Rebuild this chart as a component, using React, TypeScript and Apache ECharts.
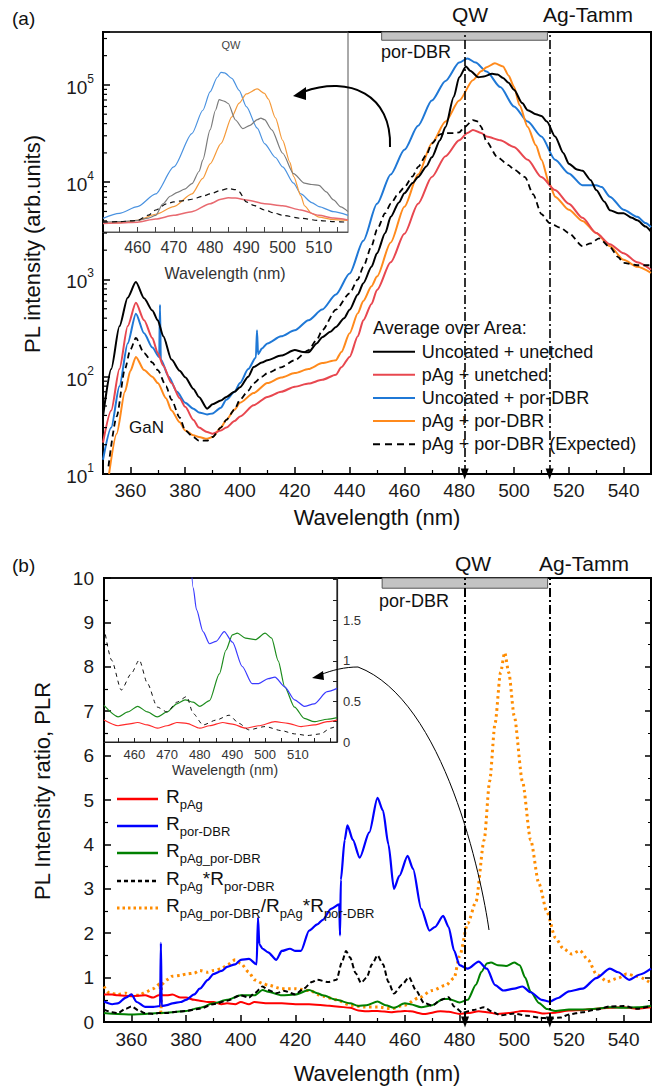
import React, { useEffect, useRef } from "react";
import * as echarts from "echarts";

const FONT = "'Liberation Sans', Arial, Helvetica, sans-serif";

// ---------- tick labels ----------
const xMajorTicks = [360, 380, 400, 420, 440, 460, 480, 500, 520, 540];
const xMinorTicks = [370, 390, 410, 430, 450, 470, 490, 510, 530];
const insetTickLabels = [460, 470, 480, 490, 500, 510];
const insetATicks = [455, 460, 465, 470, 475, 480, 485, 490, 495, 500, 505, 510, 515];
const insetBTicks = [455, 460, 465, 470, 475, 480, 485, 490, 495, 500, 505, 510, 515, 520];
const insetBYLabels = [0, 0.5, 1, 1.5];
const insetBYTicks = [0, 0.25, 0.5, 0.75, 1, 1.25, 1.5, 1.75, 2];
const markerWavelengths = [482, 513]; // QW, Ag-Tamm
const porDbrBand = [451.7, 512.2];

// ---------- panel (a): PL spectra ----------
const uncoatedUnetched: [number, number][] = [
  [350, 39], [353, 120], [356, 330], [359, 650], [362, 940], [365, 640], [368, 480], [370, 380], [372, 260],
  [375, 150], [378, 115], [380, 99], [383, 75], [385, 62], [388, 47], [390, 52], [393, 57], [395, 62], [398, 70],
  [400, 78], [403, 100], [405, 126], [408, 140], [410, 148], [415, 165], [420, 188], [423, 180], [425, 178],
  [428, 220], [430, 255], [433, 290], [435, 325], [438, 400], [440, 487], [443, 700], [445, 915], [448, 1350],
  [450, 1860], [453, 3000], [455, 4400], [458, 6200], [460, 7700], [463, 9800], [465, 11300], [468, 14500],
  [470, 18000], [473, 27000], [475, 37000], [478, 75000], [480, 120000], [482.5, 155000], [484, 140000],
  [487, 120000], [489, 122000], [492, 130000], [494, 128000], [496, 118000], [498, 105000], [500, 89000],
  [503, 65000], [505, 55000], [508, 50000], [510, 48000], [512, 42000], [515, 29500], [518, 20000], [520, 15500],
  [523, 13500], [525, 13100], [528, 10500], [530, 8300], [533, 6300], [535, 5150], [538, 4800], [540, 4800],
  [543, 4300], [545, 4050], [548, 3500], [550, 3100],
];
const pAgUnetched: [number, number][] = [
  [350, 21], [353, 45], [356, 120], [359, 330], [362, 575], [365, 380], [368, 250], [370, 175], [372, 130],
  [375, 86], [378, 60], [380, 49], [383, 36], [385, 30], [388, 27], [390, 26], [393, 28], [395, 30], [398, 35],
  [400, 39], [405, 51], [410, 62], [415, 70], [420, 79], [425, 85], [430, 93], [435, 105], [437, 125], [440, 160],
  [443, 260], [445, 380], [448, 560], [450, 780], [455, 1500], [460, 2950], [465, 6000], [470, 11300],
  [475, 18500], [480, 27000], [483, 32000], [485, 34500], [488, 32000], [490, 29500], [495, 27000], [500, 23000],
  [505, 17000], [510, 11300], [515, 8300], [520, 6000], [525, 4300], [530, 3000], [535, 2300], [540, 1860],
  [545, 1500], [550, 1260],
];
const uncoatedPorDbr: [number, number][] = [
  [350, 14], [353, 30], [356, 80], [359, 220], [362, 445], [365, 280], [368, 200], [370.5, 160], [370.8, 550],
  [371.1, 150], [374, 100], [377, 70], [380, 54], [383, 47], [385, 43], [388, 41], [390, 42], [393, 48], [395, 58],
  [398, 70], [400, 86], [403, 120], [405.8, 158], [406.2, 300], [406.6, 170], [408, 195], [410, 220], [415, 260],
  [420, 300], [425, 380], [430, 490], [435, 700], [440, 1150], [445, 2500], [450, 6000], [455, 12000],
  [460, 21500], [465, 38000], [470, 69000], [475, 110000], [480, 170000], [483, 187000], [486, 170000],
  [490, 137000], [495, 95000], [500, 60000], [505, 42000], [510, 29500], [515, 17000], [520, 12300], [525, 9300],
  [530, 9300], [532, 8900], [535, 7100], [540, 5200], [545, 4400], [548, 3800], [550, 3450],
];
const pAgPorDbr: [number, number][] = [
  [352.2, 10], [355, 26], [358, 70], [360, 115], [362, 160], [365, 117], [368, 100], [370, 86], [373, 60],
  [375, 45], [378, 34], [380, 28], [383, 25], [385, 24], [388, 23], [390, 24], [393, 30], [395, 36], [398, 46],
  [400, 54], [405, 68], [410, 86], [415, 98], [420, 109], [425, 120], [430, 138], [435, 148], [437, 180],
  [440, 280], [443, 450], [445, 600], [448, 850], [450, 1070], [455, 2400], [460, 5600], [465, 12000],
  [470, 25000], [475, 42000], [480, 69000], [485, 112000], [488, 138000], [490, 152000], [493, 167000],
  [496, 155000], [498, 125000], [500, 96000], [502, 62000], [505, 37000], [508, 24000], [510, 17000],
  [513, 9500], [515, 7100], [520, 5200], [525, 4000], [530, 3000], [535, 2200], [540, 1590], [545, 1350],
  [550, 1170],
];
const pAgPorDbrExpected: [number, number][] = [
  [352, 12], [355, 39], [358, 120], [360, 190], [362, 250], [365, 175], [368, 140], [370, 117], [373, 80],
  [375, 58], [378, 38], [380, 28], [383, 24], [385, 22], [388, 22], [390, 24], [393, 30], [395, 36], [398, 46],
  [400, 58], [403, 72], [405, 86], [408, 100], [410, 109], [415, 125], [420, 148], [425, 188], [428, 240],
  [430, 300], [435, 490], [440, 720], [443, 1000], [445, 1350], [448, 2200], [450, 3250], [453, 4800],
  [455, 6000], [458, 7800], [460, 8900], [463, 11500], [465, 14400], [468, 19000], [470, 25000], [473, 31000],
  [475, 32000], [478, 32000], [480, 32500], [482, 37000], [485, 43500], [487, 42000], [488, 37000], [490, 26000],
  [494, 18000], [498, 15000], [500, 13500], [504, 11300], [507, 7500], [510, 4700], [513, 3800], [517, 3400],
  [520, 3000], [525, 2200], [528, 2350], [531, 2650], [535, 2150], [538, 1700], [540, 1480], [545, 1400],
  [550, 1400],
];

// inset of panel (a)
const insetUncoatedUnetched: [number, number][] = [
  [450.5, 3900], [455, 3950], [460, 4060], [463, 4300], [465, 4580], [467, 6000], [469, 7200], [471, 7900],
  [473, 8500], [475, 9700], [477, 13000], [478, 17000], [480, 34600], [481.5, 55000], [482.5, 70600],
  [484, 68000], [485, 64500], [487, 43700], [489, 35700], [491, 38500], [493, 44000], [494, 45700],
  [495, 44000], [497, 34600], [500, 19900], [503, 12300], [506, 9800], [508, 9500], [510, 9300], [512, 8000],
  [514, 6600], [516, 5600], [518, 5000],
];
const insetPAgUnetched: [number, number][] = [
  [450.5, 3780], [455, 3820], [460, 3900], [465, 4200], [470, 4580], [475, 5000], [480, 6030], [483, 6700],
  [485, 6950], [487, 6900], [490, 6600], [495, 6030], [500, 5750], [505, 5200], [510, 4580], [514, 4300],
  [518, 4110],
];
const insetUncoatedPorDbr: [number, number][] = [
  [450.5, 4270], [455, 4800], [460, 5630], [465, 7600], [470, 14400], [475, 31700], [478, 55000], [480, 85000],
  [482, 120000], [483, 135000], [484, 133000], [486, 117000], [488, 88000], [490, 60000], [493, 36000],
  [495, 25000], [498, 18000], [500, 14400], [503, 9800], [505, 7600], [508, 6200], [510, 5630], [514, 5000],
  [518, 4580],
];
const insetPAgPorDbr: [number, number][] = [
  [450.5, 3780], [455, 3850], [460, 4060], [465, 4700], [470, 5630], [475, 7600], [478, 11000], [480, 15500],
  [483, 25000], [486, 47000], [488, 65000], [490, 81000], [493, 91000], [495, 82000], [496, 72000],
  [498, 46000], [500, 27000], [502, 16000], [503, 11500], [505, 7300], [506, 5750], [508, 4800], [510, 4390],
  [514, 4150], [518, 4060],
];
const insetExpected: [number, number][] = [
  [450.5, 3900], [455, 3950], [460, 4060], [463, 4600], [465, 5200], [468, 6000], [470, 6300], [473, 6500],
  [475, 6700], [478, 7200], [480, 7600], [483, 8300], [485, 8640], [487, 8400], [488, 8000], [490, 6300],
  [492, 5800], [495, 5200], [498, 4800], [500, 4580], [505, 4270], [510, 4060], [514, 3950], [518, 3900],
];

// ---------- panel (b): PL intensity ratios ----------
const rPAg: [number, number][] = [
  [350, 0.62], [353, 0.62], [355, 0.6], [360, 0.58], [365, 0.6], [368, 0.55], [370, 0.6], [373, 0.6],
  [375, 0.62], [378, 0.55], [380, 0.55], [383, 0.5], [385, 0.48], [388, 0.45], [390, 0.45], [393, 0.4],
  [395, 0.42], [398, 0.4], [400, 0.45], [403, 0.4], [405, 0.45], [410, 0.42], [415, 0.42], [420, 0.4],
  [425, 0.4], [430, 0.38], [435, 0.35], [440, 0.32], [443, 0.26], [446, 0.24], [450, 0.25], [455, 0.22],
  [460, 0.25], [462, 0.24], [467, 0.18], [473, 0.24], [476, 0.23], [480, 0.18], [483, 0.2], [487, 0.24],
  [490, 0.22], [494, 0.18], [498, 0.2], [503, 0.25], [507, 0.23], [511, 0.19], [515, 0.21], [520, 0.26],
  [525, 0.27], [530, 0.3], [535, 0.32], [540, 0.33], [545, 0.3], [550, 0.33],
];
const rPorDbr: [number, number][] = [
  [350, 0.46], [353, 0.4], [355, 0.42], [358, 0.55], [360, 0.62], [362, 0.45], [365, 0.34], [368, 0.34],
  [370.5, 0.36], [370.8, 1.78], [371.1, 0.36], [373, 0.38], [375, 0.42], [378, 0.45], [380, 0.5], [383, 0.62],
  [385, 0.75], [388, 0.95], [390, 1.08], [393, 1.15], [395, 1.24], [398, 1.3], [400, 1.4], [403, 1.42],
  [405.8, 1.3], [406.3, 2.35], [406.8, 1.75], [408, 1.65], [410, 1.57], [413, 1.4], [415, 1.6], [418, 1.65],
  [420, 1.6], [422, 1.6], [425, 2.06], [428, 2.2], [430, 2.3], [433, 2.55], [436, 2.65], [436.3, 1.95],
  [436.6, 3.2], [438, 4.1], [439, 4.43], [441, 4.1], [443.5, 3.7], [447, 4.27], [450, 5.05], [452, 4.76],
  [454, 4.0], [456, 3.0], [458, 3.29], [461, 3.74], [463, 3.45], [466, 2.55], [469, 2.06], [471, 2.14],
  [474, 2.39], [476, 2.14], [478, 1.61], [480, 1.28], [483, 1.2], [487, 1.36], [490, 1.2], [493, 0.83],
  [496, 0.71], [500, 0.75], [503, 0.8], [506, 0.67], [510, 0.5], [513, 0.46], [516, 0.54], [520, 0.69],
  [525, 0.75], [530, 0.99], [535, 1.2], [538, 1.12], [542, 0.95], [546, 1.07], [550, 1.2],
];
const rPAgPorDbr: [number, number][] = [
  [350, 0.2], [355, 0.18], [360, 0.17], [365, 0.18], [370, 0.2], [375, 0.22], [380, 0.25], [385, 0.32],
  [390, 0.42], [395, 0.5], [400, 0.6], [405, 0.6], [408, 0.72], [410, 0.68], [415, 0.6], [420, 0.62],
  [425, 0.72], [428, 0.65], [430, 0.6], [435, 0.5], [440, 0.42], [443, 0.36], [446, 0.38], [450, 0.46],
  [453, 0.38], [456, 0.32], [460, 0.42], [462, 0.4], [466, 0.33], [470, 0.38], [474, 0.52], [476, 0.52],
  [480, 0.44], [483, 0.5], [486, 0.84], [488, 1.13], [490, 1.32], [491.5, 1.34], [494, 1.28], [497, 1.26],
  [500, 1.34], [502, 1.28], [504, 1.0], [506, 0.68], [509, 0.43], [512, 0.29], [515, 0.25], [520, 0.28],
  [525, 0.28], [530, 0.3], [535, 0.33], [540, 0.32], [545, 0.33], [550, 0.36],
];
const rProduct: [number, number][] = [
  [350, 0.28], [353, 0.22], [355, 0.2], [358, 0.3], [360, 0.35], [363, 0.25], [365, 0.2], [368, 0.18],
  [370, 0.2], [373, 0.2], [375, 0.22], [380, 0.25], [385, 0.3], [390, 0.4], [395, 0.48], [400, 0.6],
  [403, 0.55], [405, 0.65], [408, 0.8], [410, 0.72], [413, 0.65], [416, 0.7], [420, 0.62], [423, 0.75],
  [426, 0.9], [428, 0.95], [432, 0.9], [435, 0.95], [437, 1.35], [438.5, 1.6], [440, 1.45], [442, 1.1],
  [444, 0.88], [446, 1.0], [448, 1.3], [450, 1.5], [452, 1.3], [454, 0.9], [456, 0.64], [459, 0.84],
  [461.5, 1.01], [464, 0.72], [467, 0.43], [470, 0.37], [473, 0.49], [476, 0.56], [478, 0.35], [481, 0.21],
  [485, 0.27], [489, 0.33], [492, 0.23], [495, 0.15], [500, 0.19], [505, 0.14], [509, 0.1], [513, 0.08],
  [517, 0.1], [520, 0.17], [525, 0.22], [530, 0.28], [535, 0.35], [540, 0.36], [545, 0.3], [550, 0.36],
];
const rRatio: [number, number][] = [
  [350, 0.8], [352, 0.65], [355, 0.62], [358, 0.65], [360, 0.6], [363, 0.6], [365, 0.67], [368, 0.75],
  [370.5, 0.86], [370.8, 0.15], [371.1, 0.85], [373, 0.95], [375, 1.03], [378, 1.05], [380, 1.08], [383, 1.1],
  [385, 1.16], [388, 1.12], [390, 1.16], [393, 1.2], [395, 1.28], [398, 1.4], [400, 1.32], [403, 1.12],
  [405, 0.95], [408, 0.87], [410, 0.83], [415, 0.75], [420, 0.75], [425, 0.71], [430, 0.58], [435, 0.5],
  [440, 0.38], [445, 0.34], [450, 0.34], [455, 0.3], [460, 0.38], [465, 0.54], [470, 0.71], [475, 0.83],
  [478, 0.99], [480, 1.48], [483, 2.22], [486, 2.71], [489, 4.1], [491, 5.42], [493, 6.73], [495, 7.87],
  [496.5, 8.32], [498, 7.87], [500, 6.89], [503, 5.42], [506, 4.1], [509, 3.12], [512, 2.47], [515, 1.9],
  [518, 1.65], [521, 1.53], [524, 1.61], [527, 1.4], [530, 1.08], [534, 0.91], [538, 0.99], [541, 1.08],
  [545, 1.03], [550, 0.87],
];

// inset of panel (b)
const insetRPAg: [number, number][] = [
  [450.7, 0.27], [455, 0.2], [458, 0.22], [461, 0.24], [464, 0.21], [467, 0.17], [470, 0.2], [473, 0.24],
  [476, 0.23], [480, 0.17], [483, 0.2], [487, 0.24], [490, 0.22], [494, 0.17], [498, 0.2], [503, 0.25],
  [507, 0.23], [511, 0.19], [515, 0.21], [519, 0.25], [522, 0.27],
];
const insetRPorDbr: [number, number][] = [
  [477, 2.4], [478, 1.9], [479, 1.63], [481, 1.36], [483, 1.21], [485, 1.24], [487.5, 1.36], [490, 1.23],
  [493, 0.93], [496, 0.72], [498, 0.72], [501, 0.78], [503, 0.8], [506, 0.68], [509, 0.52], [512, 0.44],
  [515, 0.47], [519, 0.62], [522, 0.66],
];
const insetRPAgPorDbr: [number, number][] = [
  [450.7, 0.45], [455, 0.31], [458, 0.37], [461, 0.44], [464, 0.37], [467, 0.31], [470, 0.37], [473, 0.47],
  [475.5, 0.52], [478, 0.49], [480, 0.44], [483, 0.51], [486, 0.84], [488, 1.13], [490, 1.32], [491.5, 1.34],
  [494, 1.28], [497, 1.26], [500, 1.34], [502, 1.28], [504, 1.0], [506, 0.68], [509, 0.43], [512, 0.29],
  [515, 0.25], [519, 0.28], [522, 0.3],
];
const insetRProduct: [number, number][] = [
  [450.7, 1.42], [453, 1.01], [456, 0.64], [459, 0.84], [461.5, 1.01], [464, 0.72], [467, 0.43], [470, 0.37],
  [473, 0.49], [476, 0.56], [478, 0.35], [481, 0.21], [485, 0.27], [489, 0.33], [492, 0.23], [495, 0.15],
  [500, 0.19], [505, 0.14], [509, 0.1], [513, 0.08], [517, 0.1], [520, 0.17], [522, 0.2],
];

// log-axis minor tick values (2..9 x 10^k) for panel (a)
const logMinorTicks: [number, number][] = [];
for (let k = 1; k <= 5; k++) {
  for (let m = 2; m <= 9; m++) {
    const v = m * Math.pow(10, k);
    if (v < 350000) logMinorTicks.push([350, v]);
  }
}

function line(
  name: string,
  data: [number, number][],
  xi: number,
  yi: number,
  color: string,
  width: number,
  dash: any = "solid",
  extra: any = {}
) {
  return {
    type: "line",
    name,
    data,
    xAxisIndex: xi,
    yAxisIndex: yi,
    showSymbol: false,
    symbol: "none",
    smooth: 0.25,
    smoothMonotone: "x",
    silent: true,
    lineStyle: { color, width, type: dash, cap: "butt", join: "round" },
    itemStyle: { color },
    z: 3,
    ...extra,
  };
}

const markLines = (width: number) => ({
  silent: true,
  symbol: ["triangle", "none"],
  symbolSize: [8, 11],
  label: { show: false },
  lineStyle: { color: "#000", width, type: [9, 3, 2, 3] },
  data: markerWavelengths.map((w) => ({ xAxis: w })),
  animation: false,
});

const txt = (x: number, y: number, text: string, size: number, extra: any = {}) => ({
  type: "text",
  x,
  y,
  silent: true,
  z: 20,
  style: {
    text,
    fontSize: size,
    fontFamily: FONT,
    fill: extra.fill || "#111",
    textAlign: extra.align || "center",
    align: extra.align || "center",
    textVerticalAlign: "middle",
    verticalAlign: "middle",
    ...(extra.style || {}),
  },
  ...(extra.el || {}),
});

const legLine = (x1: number, x2: number, y: number, color: string, width: number, dash?: number[]) => ({
  type: "line",
  silent: true,
  z: 20,
  shape: { x1, y1: y, x2, y2: y },
  style: { stroke: color, lineWidth: width, lineDash: dash || null },
});

const subRich = {
  r: { fontSize: 19, lineHeight: 24, verticalAlign: "top", fontFamily: FONT, color: "#111" },
  s: { fontSize: 13, lineHeight: 13, verticalAlign: "bottom", fontFamily: FONT, color: "#111" },
};
const richTxt = (x: number, y: number, text: string) => ({
  type: "text",
  x,
  y,
  silent: true,
  z: 20,
  style: {
    text,
    rich: subRich,
    fontFamily: FONT,
    fill: "#111",
    textAlign: "left",
    align: "left",
    textVerticalAlign: "middle",
    verticalAlign: "middle",
  },
});

export default function App() {
  const ref = useRef<HTMLDivElement>(null);
  useEffect(() => {
    if (!ref.current) return;
    const chart = echarts.init(ref.current, undefined, { renderer: "svg" });
    const axisLine = { show: true, onZero: false, lineStyle: { color: "#000", width: 2 } };
    const mainLabel = { fontSize: 19, color: "#1a1a1a", fontFamily: FONT };

    const option: any = {
      animation: false,
      backgroundColor: "#fff",
      grid: [
        { left: 103, top: 32, width: 548, height: 442, show: true, borderColor: "#000", borderWidth: 2, backgroundColor: "transparent", outerBoundsMode: "none" },
        { left: 103, top: 32, width: 245, height: 200, show: true, borderColor: "#555", borderWidth: 1, backgroundColor: "transparent", outerBoundsMode: "none" },
        { left: 104, top: 578, width: 547, height: 444, show: true, borderColor: "#000", borderWidth: 2, backgroundColor: "transparent", outerBoundsMode: "none" },
        { left: 104, top: 578, width: 233, height: 164, show: true, borderColor: "#222", borderWidth: 1.2, backgroundColor: "transparent", outerBoundsMode: "none" },
      ],
      xAxis: [
        {
          gridIndex: 0, type: "value", min: 350, max: 550, position: "bottom",
          axisLine, splitLine: { show: false },
          axisTick: { show: true, inside: true, length: 7, customValues: xMajorTicks, lineStyle: { color: "#000", width: 1.5 } },
          axisLabel: { show: true, customValues: xMajorTicks, margin: 7, ...mainLabel },
        },
        {
          gridIndex: 0, type: "value", min: 350, max: 550, position: "bottom",
          axisLine: { show: false }, splitLine: { show: false }, axisLabel: { show: false },
          axisTick: { show: true, inside: true, length: 4, customValues: xMinorTicks, lineStyle: { color: "#000", width: 1.2 } },
        },
        {
          gridIndex: 1, type: "value", min: 450.5, max: 518, position: "bottom",
          axisLine: { show: true, onZero: false, lineStyle: { color: "#555", width: 1 } }, splitLine: { show: false },
          axisTick: { show: true, inside: true, length: 5, customValues: insetATicks, lineStyle: { color: "#444", width: 1 } },
          axisLabel: { show: true, customValues: insetTickLabels, margin: 7, fontSize: 16, color: "#333", fontFamily: FONT },
        },
        {
          gridIndex: 2, type: "value", min: 350, max: 550, position: "bottom",
          axisLine, splitLine: { show: false },
          axisTick: { show: true, inside: true, length: 7, customValues: xMajorTicks, lineStyle: { color: "#000", width: 1.5 } },
          axisLabel: { show: true, customValues: xMajorTicks, margin: 8, ...mainLabel },
        },
        {
          gridIndex: 2, type: "value", min: 350, max: 550, position: "bottom",
          axisLine: { show: false }, splitLine: { show: false }, axisLabel: { show: false },
          axisTick: { show: true, inside: true, length: 4, customValues: xMinorTicks, lineStyle: { color: "#000", width: 1.2 } },
        },
        {
          gridIndex: 3, type: "value", min: 450.7, max: 522, position: "bottom",
          axisLine: { show: true, onZero: false, lineStyle: { color: "#222", width: 1.2 } }, splitLine: { show: false },
          axisTick: { show: true, inside: true, length: 4, customValues: insetBTicks, lineStyle: { color: "#222", width: 1 } },
          axisLabel: { show: true, customValues: insetTickLabels, margin: 6, fontSize: 13, color: "#333", fontFamily: FONT },
        },
      ],
      yAxis: [
        {
          gridIndex: 0, type: "log", logBase: 10, min: 10, max: 350000, position: "left",
          axisLine, splitLine: { show: false },
          axisTick: { show: true, inside: true, length: 7, lineStyle: { color: "#000", width: 1.5 } },
          axisLabel: {
            show: true, margin: 9,
            formatter: (v: number) => {
              const e = Math.log10(v);
              const r = Math.round(e);
              if (Math.abs(e - r) > 0.01) return "";
              return `{b|10}{e|${r}}`;
            },
            rich: {
              b: { fontSize: 19, lineHeight: 24, verticalAlign: "bottom", fontFamily: FONT, color: "#1a1a1a" },
              e: { fontSize: 12, lineHeight: 12, verticalAlign: "top", fontFamily: FONT, color: "#1a1a1a" },
            },
          },
        },
        { gridIndex: 1, type: "log", logBase: 10, min: 3090, max: 350000, show: false },
        {
          gridIndex: 2, type: "value", min: 0, max: 10, interval: 1, position: "left",
          axisLine, splitLine: { show: false },
          axisTick: { show: true, inside: true, length: 7, lineStyle: { color: "#000", width: 1.5 } },
          minorTick: { show: true, splitNumber: 2, length: 4, lineStyle: { color: "#000", width: 1.2 } },
          axisLabel: { show: true, margin: 10, ...mainLabel },
        },
        {
          gridIndex: 2, type: "value", min: 0, max: 10, interval: 1, position: "right",
          axisLine: { show: false }, splitLine: { show: false }, axisLabel: { show: false },
          axisTick: { show: true, inside: true, length: 6, lineStyle: { color: "#000", width: 1.5 } },
          minorTick: { show: true, splitNumber: 2, length: 3, lineStyle: { color: "#000", width: 1 } },
        },
        {
          gridIndex: 3, type: "value", min: 0, max: 2.02, position: "right",
          axisLine: { show: true, onZero: false, lineStyle: { color: "#222", width: 1.2 } }, splitLine: { show: false },
          axisTick: { show: true, inside: true, length: 4, customValues: insetBYTicks, lineStyle: { color: "#222", width: 1 } },
          axisLabel: { show: true, customValues: insetBYLabels, margin: 6, fontSize: 13, color: "#333", fontFamily: FONT },
        },
      ],
      series: [
        // ---- panel (a)
        line("Uncoated + por-DBR", uncoatedPorDbr, 0, 0, "#1f78d6", 2, "solid", {
          markLine: markLines(1.6),
          markArea: {
            silent: true,
            itemStyle: { color: "#c3c3c3", borderColor: "#555", borderWidth: 1 },
            data: [[{ xAxis: porDbrBand[0], yAxis: 288000 }, { xAxis: porDbrBand[1], yAxis: 350000 }]],
          },
        }),
        line("pAg + por-DBR", pAgPorDbr, 0, 0, "#ff8a1c", 2),
        line("pAg + unetched", pAgUnetched, 0, 0, "#e8474f", 2),
        line("pAg + por-DBR (Expected)", pAgPorDbrExpected, 0, 0, "#000", 1.8, [6, 4]),
        line("Uncoated + unetched", uncoatedUnetched, 0, 0, "#000", 2),
        {
          type: "custom",
          name: "log minor ticks",
          xAxisIndex: 0,
          yAxisIndex: 0,
          silent: true,
          clip: false,
          data: logMinorTicks,
          renderItem: (params: any, api: any) => {
            const p = api.coord([api.value(0), api.value(1)]);
            return {
              type: "line",
              shape: { x1: p[0], y1: p[1], x2: p[0] + 4, y2: p[1] },
              style: { stroke: "#000", lineWidth: 1.2 },
            };
          },
          z: 5,
        },
        // inset (a)
        line("inset Uncoated + por-DBR", insetUncoatedPorDbr, 2, 1, "#4a92e0", 1.2),
        line("inset pAg + por-DBR", insetPAgPorDbr, 2, 1, "#f59a3a", 1.2),
        line("inset Uncoated + unetched", insetUncoatedUnetched, 2, 1, "#7c7c7c", 1.2),
        line("inset pAg + unetched", insetPAgUnetched, 2, 1, "#e86a70", 1.5),
        line("inset Expected", insetExpected, 2, 1, "#111", 1.2, [5, 4]),
        // ---- panel (b)
        line("R_ratio", rRatio, 3, 2, "#ff8c00", 3, [2.5, 3.5], {
          markLine: markLines(2),
          markArea: {
            silent: true,
            itemStyle: { color: "#c3c3c3", borderColor: "#555", borderWidth: 1 },
            data: [[{ xAxis: porDbrBand[0], yAxis: 9.77 }, { xAxis: porDbrBand[1], yAxis: 10 }]],
          },
        }),
        line("R_pAg", rPAg, 3, 2, "#ff0000", 2),
        line("R_pAg_por-DBR", rPAgPorDbr, 3, 2, "#008000", 2),
        line("R_pAg*R_por-DBR", rProduct, 3, 2, "#000", 2, [5, 3]),
        line("R_por-DBR", rPorDbr, 3, 2, "#0000ff", 2.2),
        // inset (b)
        line("inset R_pAg", insetRPAg, 5, 4, "#ff2a2a", 1.2),
        line("inset R_pAg_por-DBR", insetRPAgPorDbr, 5, 4, "#1d8c1d", 1.2),
        line("inset R_por-DBR", insetRPorDbr, 5, 4, "#3a3aff", 1.2),
        line("inset R_pAg*R_por-DBR", insetRProduct, 5, 4, "#111", 1, [4, 4]),
      ],
      graphic: [
        // panel (a) texts
        txt(12, 18, "(a)", 19, { align: "left" }),
        txt(470, 14, "QW", 21),
        txt(588, 14, "Ag-Tamm", 21),
        txt(381, 52, "por-DBR", 18, { align: "left" }),
        txt(129, 427, "GaN", 17, { align: "left" }),
        txt(231, 45, "QW", 11, { fill: "#444" }),
        txt(225, 273, "Wavelength (nm)", 16, { fill: "#333" }),
        txt(377, 517, "Wavelength (nm)", 22),
        txt(32, 244, "PL intensity (arb.units)", 22, { el: { rotation: Math.PI / 2 } }),
        // legend (a)
        txt(373, 328, "Average over Area:", 18, { align: "left" }),
        legLine(373, 415, 351.7, "#000", 2),
        txt(421.7, 351.7, "Uncoated + unetched", 18, { align: "left" }),
        legLine(373, 415, 374.8, "#e8474f", 2),
        txt(421.7, 374.8, "pAg + unetched", 18, { align: "left" }),
        legLine(373, 415, 397.9, "#1f78d6", 2),
        txt(421.7, 397.9, "Uncoated + por-DBR", 18, { align: "left" }),
        legLine(373, 415, 421, "#ff8a1c", 2),
        txt(421.7, 421, "pAg + por-DBR", 18, { align: "left" }),
        legLine(373, 415, 444.3, "#000", 2, [7, 5]),
        txt(421.7, 444.3, "pAg + por-DBR (Expected)", 18, { align: "left" }),
        // arrow (a)
        {
          type: "bezierCurve", silent: true, z: 20,
          shape: { x1: 390, y1: 147, cpx1: 392, cpy1: 95, cpx2: 350, cpy2: 75, x2: 303, y2: 92 },
          style: { stroke: "#000", lineWidth: 2, fill: null },
        },
        { type: "polygon", silent: true, z: 20, shape: { points: [[293, 96], [306, 87], [306, 100]] }, style: { fill: "#000" } },
        // panel (b) texts
        txt(12, 565, "(b)", 19, { align: "left" }),
        txt(473, 563, "QW", 21),
        txt(584, 563, "Ag-Tamm", 21),
        txt(379, 601, "por-DBR", 18, { align: "left" }),
        txt(225, 770, "Wavelength (nm)", 14, { fill: "#333" }),
        txt(377, 1073, "Wavelength (nm)", 22),
        txt(42, 791, "PL Intensity ratio, PLR", 22, { el: { rotation: Math.PI / 2 } }),
        // legend (b)
        legLine(117, 158, 799, "#ff0000", 2.5),
        richTxt(166, 799, "{r|R}{s|pAg}"),
        legLine(117, 158, 826, "#0000ff", 2.5),
        richTxt(166, 826, "{r|R}{s|por-DBR}"),
        legLine(117, 158, 853, "#008000", 2.5),
        richTxt(166, 853, "{r|R}{s|pAg_por-DBR}"),
        legLine(117, 158, 881, "#000", 2.5, [4, 3]),
        richTxt(166, 881, "{r|R}{s|pAg}{r|*R}{s|por-DBR}"),
        legLine(117, 158, 908, "#ff8c00", 3, [2.5, 3]),
        richTxt(166, 908, "{r|R}{s|pAg_por-DBR}{r|/R}{s|pAg}{r|*R}{s|por-DBR}"),
        // arrow (b)
        {
          type: "bezierCurve", silent: true, z: 20,
          shape: { x1: 489, y1: 930, cpx1: 482, cpy1: 880, cpx2: 445, cpy2: 700, x2: 358, y2: 667 },
          style: { stroke: "#000", lineWidth: 1, fill: null },
        },
        {
          type: "bezierCurve", silent: true, z: 20,
          shape: { x1: 358, y1: 667, cpx1: 345, cpy1: 667, cpx2: 332, cpy2: 670, x2: 320, y2: 675 },
          style: { stroke: "#000", lineWidth: 1, fill: null },
        },
        { type: "polygon", silent: true, z: 20, shape: { points: [[312, 678], [323, 671], [324, 680]] }, style: { fill: "#000" } },
      ],
    };
    chart.setOption(option);
    return () => chart.dispose();
  }, []);
  return (
    <div
      ref={ref}
      style={{ position: "absolute", left: 0, top: 0, width: 662, height: 1089, background: "#fff" }}
    />
  );
}
